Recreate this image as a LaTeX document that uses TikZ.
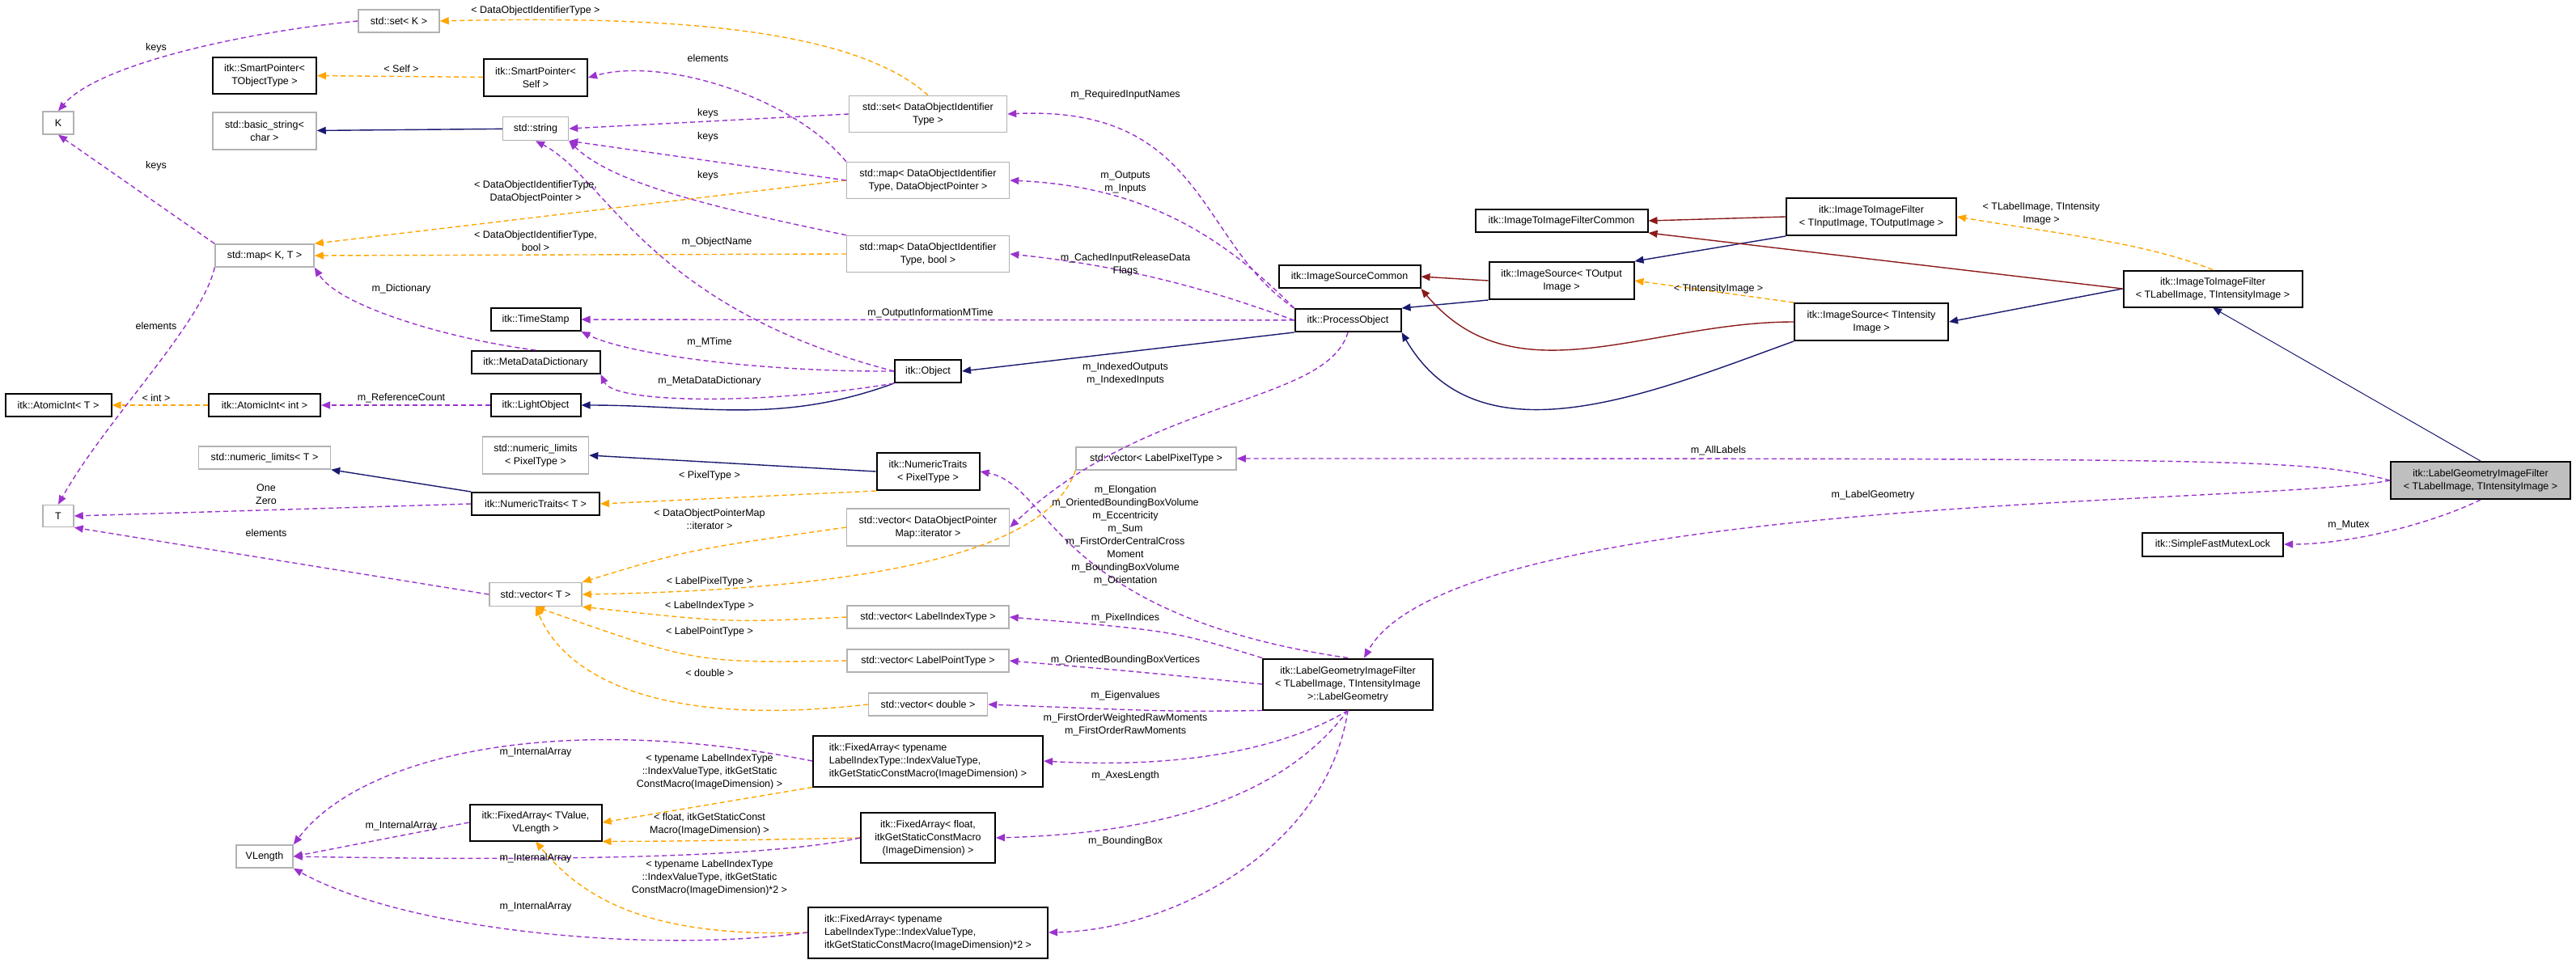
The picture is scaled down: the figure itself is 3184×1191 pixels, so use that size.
\documentclass[tikz,border=0pt]{standalone}
\usepackage{fontspec}
\setmainfont{Liberation Sans}
\usetikzlibrary{arrows.meta}
\definecolor{usecol}{HTML}{9A32CD}
\definecolor{tplcol}{HTML}{FFA500}
\definecolor{inhcol}{HTML}{191970}
\definecolor{protcol}{HTML}{8B1A1A}
\begin{document}
\begin{tikzpicture}[x=1pt,y=-1pt,>={Triangle[width=9pt,length=11pt]},line width=1.4pt]
\tikzstyle{cls}=[draw=black,line width=2pt,inner sep=0pt,align=center,font=\fontsize{12.5}{16}\selectfont]
\tikzstyle{ext}=[cls,draw=black!30,line width=1.5pt]
\tikzstyle{lbl}=[align=center,font=\fontsize{12.5}{16}\selectfont]
\tikzstyle{use}=[->,usecol,dashed,dash pattern=on 6pt off 4pt]
\tikzstyle{tpl}=[->,tplcol,dashed,dash pattern=on 6pt off 4pt]
\tikzstyle{inh}=[->,inhcol]
\tikzstyle{prot}=[->,protcol]
\useasboundingbox (0,0) rectangle (3184,1191);

% Column of std and itk helper classes
\node[ext,minimum width=100,minimum height=28] (set-K) at (493,26) {std::set< K >};
\node[cls,minimum width=128,minimum height=45] (SP-TObj) at (327,93) {itk::SmartPointer<\\TObjectType >};
\node[cls,minimum width=128,minimum height=46] (SP-Self) at (662,96) {itk::SmartPointer<\\Self >};
\node[ext,minimum width=38,minimum height=28] (K) at (72,152) {K};
\node[ext,minimum width=128,minimum height=46] (basic-string) at (327,162) {std::basic\_string<\\char >};
\node[ext,minimum width=81,minimum height=29] (string) at (662,159) {std::string};
\node[ext,minimum width=195,minimum height=45] (set-DOI) at (1147,141) {std::set< DataObjectIdentifier\\Type >};
\node[ext,minimum width=201,minimum height=45] (map-DOP) at (1147,223) {std::map< DataObjectIdentifier\\Type, DataObjectPointer >};
\node[ext,minimum width=122,minimum height=28] (map-KT) at (327,316) {std::map< K, T >};
\node[ext,minimum width=201,minimum height=45] (map-bool) at (1147,314) {std::map< DataObjectIdentifier\\Type, bool >};
\node[cls,minimum width=111,minimum height=28] (TimeStamp) at (662,395) {itk::TimeStamp};
\node[cls,minimum width=159,minimum height=28] (MDD) at (662,448) {itk::MetaDataDictionary};
\node[cls,minimum width=82,minimum height=28] (Object) at (1147,459) {itk::Object};
\node[cls,minimum width=131,minimum height=28] (AI-T) at (72,501) {itk::AtomicInt< T >};
\node[cls,minimum width=138,minimum height=28] (AI-int) at (327,501) {itk::AtomicInt< int >};
\node[cls,minimum width=111,minimum height=28] (LightObject) at (662,501) {itk::LightObject};
\node[ext,minimum width=163,minimum height=28] (NL-T) at (327,566) {std::numeric\_limits< T >};
\node[ext,minimum width=131,minimum height=46] (NL-PT) at (662,563) {std::numeric\_limits\\< PixelType >};
\node[cls,minimum width=127,minimum height=46] (NT-PT) at (1147,583) {itk::NumericTraits\\< PixelType >};
\node[cls,minimum width=158,minimum height=28] (NT-T) at (662,623) {itk::NumericTraits< T >};
\node[ext,minimum width=38,minimum height=27] (T) at (72,638) {T};
\node[ext,minimum width=201,minimum height=46] (vec-DOPM) at (1147,652) {std::vector< DataObjectPointer\\Map::iterator >};
\node[ext,minimum width=114,minimum height=29] (vec-T) at (662,735) {std::vector< T >};
\node[ext,minimum width=200,minimum height=28] (vec-LIT) at (1147,763) {std::vector< LabelIndexType >};
\node[ext,minimum width=200,minimum height=28] (vec-LPT) at (1147,817) {std::vector< LabelPointType >};
\node[ext,minimum width=147,minimum height=28] (vec-double) at (1147,871) {std::vector< double >};
\node[cls,minimum width=284,minimum height=63,align=left] (FA-LIT) at (1147,941) {itk::FixedArray< typename\\LabelIndexType::IndexValueType,\\itkGetStaticConstMacro(ImageDimension) >};
\node[cls,minimum width=163,minimum height=45] (FA-TV) at (662,1017) {itk::FixedArray< TValue,\\VLength >};
\node[ext,minimum width=70,minimum height=28] (VLength) at (327,1059) {VLength};
\node[cls,minimum width=166,minimum height=62] (FA-float) at (1147,1036) {itk::FixedArray< float,\\itkGetStaticConstMacro\\(ImageDimension) >};
\node[cls,minimum width=296,minimum height=63,align=left] (FA-LIT2) at (1147,1153) {itk::FixedArray< typename\\LabelIndexType::IndexValueType,\\itkGetStaticConstMacro(ImageDimension)*2 >};

% Pipeline classes
\node[ext,minimum width=198,minimum height=28] (vec-LPxT) at (1429,567) {std::vector< LabelPixelType >};
\node[cls,minimum width=213,minimum height=28] (ITIFC) at (1930,273) {itk::ImageToImageFilterCommon};
\node[cls,minimum width=210,minimum height=46] (ITIF-in) at (2313,268) {itk::ImageToImageFilter\\< TInputImage, TOutputImage >};
\node[cls,minimum width=175,minimum height=28] (ISC) at (1668,342) {itk::ImageSourceCommon};
\node[cls,minimum width=179,minimum height=46] (IS-out) at (1930,347) {itk::ImageSource< TOutput\\Image >};
\node[cls,minimum width=131,minimum height=28] (PO) at (1666,396) {itk::ProcessObject};
\node[cls,minimum width=190,minimum height=46] (IS-int) at (2313,398) {itk::ImageSource< TIntensity\\Image >};
\node[cls,minimum width=221,minimum height=45] (ITIF-L) at (2735,357) {itk::ImageToImageFilter\\< TLabelImage, TIntensityImage >};
\node[cls,fill=black!25,minimum width=222,minimum height=46] (LGIF) at (3066,594) {itk::LabelGeometryImageFilter\\< TLabelImage, TIntensityImage >};
\node[cls,minimum width=174,minimum height=29] (SFML) at (2735,673) {itk::SimpleFastMutexLock};
\node[cls,minimum width=210,minimum height=63] (LG) at (1666,846) {itk::LabelGeometryImageFilter\\< TLabelImage, TIntensityImage\\>::LabelGeometry};

% Inheritance
\draw[inh] (string) -- (basic-string);
\draw[inh] (Object.south west) to[out=200,in=0] (LightObject);
\draw[inh] (PO.south west) -- (Object.east);
\draw[inh] (NT-T.north west) -- (NL-T.south east);
\draw[inh] (NT-PT.west) -- (NL-PT.east);
\draw[inh] (IS-out.south west) -- (PO.north east);
\draw[inh] (IS-int.south west) to[out=-160,in=-60] (PO.south east);
\draw[inh] (ITIF-in.south west) -- (IS-out.north east);
\draw[inh] (ITIF-L.west) -- (IS-int.east);
\draw[inh,line width=1pt] (LGIF.north) -- (ITIF-L.south);
\draw[prot] (IS-out.west) -- (ISC.east);
\draw[prot] (IS-int.west) to[out=180,in=-50] (ISC.south east);
\draw[prot] (ITIF-in.west) -- (ITIFC.east);
\draw[prot] (ITIF-L.west) -- (ITIFC.south east);

% Template instances
\draw[tpl] (set-DOI.north) .. controls (1050,30) and (800,20) .. (set-K.east);
\draw[tpl] (SP-Self) -- (SP-TObj);
\draw[tpl] (map-DOP.west) -- (map-KT.north east);
\draw[tpl] (map-bool.west) -- (map-KT.east);
\draw[tpl] (AI-int) -- (AI-T);
\draw[tpl] (NT-PT.south west) -- (NT-T.east);
\draw[tpl] (vec-DOPM.west) .. controls (850,680) .. (vec-T.north east);
\draw[tpl] (vec-LPxT.south west) .. controls (1290,700) and (1000,730) .. (vec-T.east);
\draw[tpl] (vec-LIT.west) .. controls (900,770) .. (vec-T.south east);
\draw[tpl] (vec-LPT.west) .. controls (860,820) .. (vec-T.south);
\draw[tpl] (vec-double.west) .. controls (820,900) and (700,840) .. (vec-T.south);
\draw[tpl] (FA-LIT.south west) -- (FA-TV.east);
\draw[tpl] (FA-float.west) .. controls (850,1040) .. (FA-TV.south east);
\draw[tpl] (FA-LIT2.west) .. controls (800,1160) and (720,1110) .. (FA-TV.south);
\draw[tpl] (ITIF-L.north) .. controls (2650,300) and (2550,290) .. (ITIF-in.east);
\draw[tpl] (IS-int.north west) -- (IS-out.east);

% Members
\draw[use] (set-K.west) .. controls (300,40) and (120,80) .. (K.north);
\draw[use] (map-KT.north west) -- (K.south);
\draw[use] (map-KT.south west) .. controls (250,400) and (130,520) .. (T.north);
\draw[use] (map-DOP.north west) .. controls (980,120) and (820,70) .. (SP-Self.east);
\draw[use] (set-DOI.west) -- (string.east);
\draw[use] (map-DOP.west) -- (string.south east);
\draw[use] (map-bool.north west) .. controls (900,260) and (760,230) .. (string.south east);
\draw[use] (Object.west) .. controls (800,380) and (750,220) .. (string.south);
\draw[use] (MDD.north) .. controls (560,420) and (420,380) .. (map-KT.south east);
\draw[use] (Object.west) .. controls (950,460) and (780,440) .. (TimeStamp.south east);
\draw[use] (Object.south west) .. controls (950,500) and (760,500) .. (MDD.south east);
\draw[use] (LightObject) -- (AI-int);
\draw[use] (PO) -- (TimeStamp);
\draw[use] (PO.north west) .. controls (1480,300) and (1490,130) .. (set-DOI.east);
\draw[use] (PO.north west) .. controls (1500,280) and (1400,230) .. (map-DOP.east);
\draw[use] (PO.west) .. controls (1500,360) and (1400,330) .. (map-bool.east);
\draw[use] (PO.south) .. controls (1640,500) and (1420,490) .. (vec-DOPM.east);
\draw[use] (NT-T.west) -- (T.east);
\draw[use] (vec-T.west) -- (T.south east);
\draw[use] (LGIF.west) .. controls (2850,567) and (2800,567) .. (vec-LPxT.east);
\draw[use] (LGIF.west) .. controls (2800,625) and (1800,610) .. ([xshift=20pt]LG.north);
\draw[use] (LGIF.south) .. controls (3000,650) and (2900,673) .. (SFML.east);
\draw[use] (LG.north) .. controls (1300,760) and (1300,600) .. (NT-PT.east);
\draw[use] (LG.north west) .. controls (1450,780) .. (vec-LIT.east);
\draw[use] (LG.west) .. controls (1400,830) .. (vec-LPT.east);
\draw[use] (LG.south west) .. controls (1450,880) .. (vec-double.east);
\draw[use] (LG.south) .. controls (1580,930) and (1450,950) .. (FA-LIT.east);
\draw[use] (LG.south) .. controls (1590,980) and (1450,1030) .. (FA-float.east);
\draw[use] (LG.south) .. controls (1640,1050) and (1450,1150) .. (FA-LIT2.east);
\draw[use] (FA-LIT.west) .. controls (700,880) and (450,930) .. (VLength.north east);
\draw[use] (FA-TV.west) -- (VLength.east);
\draw[use] (FA-float.west) .. controls (950,1060) and (700,1065) .. (VLength.east);
\draw[use] (FA-LIT2.west) .. controls (800,1180) and (500,1150) .. (VLength.south east);

% Labels
\node[lbl] (l-keys1) at (193,59) {keys};
\node[lbl] (l-keys2) at (193,205) {keys};
\node[lbl] (l-elem1) at (193,403) {elements};
\node[lbl] (l-elem2) at (875,72) {elements};
\node[lbl] (l-keys3) at (875,140) {keys};
\node[lbl] (l-keys4) at (875,169) {keys};
\node[lbl] (l-keys5) at (875,217) {keys};
\node[lbl] (l-oname) at (886,299) {m\_ObjectName};
\node[lbl] (l-dict) at (496,357) {m\_Dictionary};
\node[lbl] (l-mtime) at (877,423) {m\_MTime};
\node[lbl] (l-mdd) at (877,471) {m\_MetaDataDictionary};
\node[lbl] (l-refc) at (496,492) {m\_ReferenceCount};
\node[lbl] (l-omt) at (1150,387) {m\_OutputInformationMTime};
\node[lbl] (l-req) at (1391,117) {m\_RequiredInputNames};
\node[lbl] (l-oi) at (1391,225) {m\_Outputs\\m\_Inputs};
\node[lbl] (l-crd) at (1391,327) {m\_CachedInputReleaseData\\Flags};
\node[lbl] (l-ioi) at (1391,462) {m\_IndexedOutputs\\m\_IndexedInputs};
\node[lbl] (l-oz) at (329,611) {One\\Zero};
\node[lbl] (l-elem3) at (329,659) {elements};
\node[lbl] (l-all) at (2124,557) {m\_AllLabels};
\node[lbl] (l-lg) at (2315,612) {m\_LabelGeometry};
\node[lbl] (l-mutex) at (2903,649) {m\_Mutex};
\node[lbl] (l-geo) at (1391,662) {m\_Elongation\\m\_OrientedBoundingBoxVolume\\m\_Eccentricity\\m\_Sum\\m\_FirstOrderCentralCross\\Moment\\m\_BoundingBoxVolume\\m\_Orientation};
\node[lbl] (l-pix) at (1391,764) {m\_PixelIndices};
\node[lbl] (l-obbv) at (1391,816) {m\_OrientedBoundingBoxVertices};
\node[lbl] (l-eig) at (1391,860) {m\_Eigenvalues};
\node[lbl] (l-raw) at (1391,896) {m\_FirstOrderWeightedRawMoments\\m\_FirstOrderRawMoments};
\node[lbl] (l-axes) at (1391,959) {m\_AxesLength};
\node[lbl] (l-bb) at (1391,1040) {m\_BoundingBox};
\node[lbl] (l-ia1) at (662,930) {m\_InternalArray};
\node[lbl] (l-ia2) at (496,1021) {m\_InternalArray};
\node[lbl] (l-ia3) at (662,1061) {m\_InternalArray};
\node[lbl] (l-ia4) at (662,1121) {m\_InternalArray};
\node[lbl] (l-t1) at (662,13) {< DataObjectIdentifierType >};
\node[lbl] (l-t2) at (496,85) {< Self >};
\node[lbl] (l-t3) at (662,237) {< DataObjectIdentifierType,\\DataObjectPointer >};
\node[lbl] (l-t4) at (662,298) {< DataObjectIdentifierType,\\bool >};
\node[lbl] (l-t5) at (193,492) {< int >};
\node[lbl] (l-t6) at (877,588) {< PixelType >};
\node[lbl] (l-t7) at (877,642) {< DataObjectPointerMap\\::iterator >};
\node[lbl] (l-t8) at (877,719) {< LabelPixelType >};
\node[lbl] (l-t9) at (877,749) {< LabelIndexType >};
\node[lbl] (l-t10) at (877,781) {< LabelPointType >};
\node[lbl] (l-t11) at (877,832) {< double >};
\node[lbl] (l-t12) at (877,954) {< typename LabelIndexType\\::IndexValueType, itkGetStatic\\ConstMacro(ImageDimension) >};
\node[lbl] (l-t13) at (877,1019) {< float, itkGetStaticConst\\Macro(ImageDimension) >};
\node[lbl] (l-t14) at (877,1085) {< typename LabelIndexType\\::IndexValueType, itkGetStatic\\ConstMacro(ImageDimension)*2 >};
\node[lbl] (l-t15) at (2523,264) {< TLabelImage, TIntensity\\Image >};
\node[lbl] (l-t16) at (2124,357) {< TIntensityImage >};
\end{tikzpicture}
\end{document}
